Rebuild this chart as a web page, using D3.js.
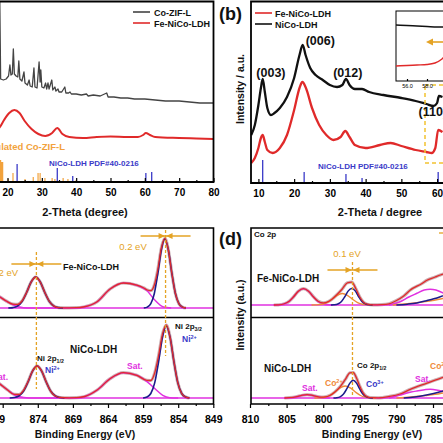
<!DOCTYPE html>
<html><head><meta charset="utf-8">
<script src="https://cdn.jsdelivr.net/npm/d3@7"></script>
<style>
html,body{margin:0;padding:0;background:#fff;overflow:hidden;}
svg{display:block;font-family:"Liberation Sans",Arial,Helvetica,sans-serif;}
</style></head><body>
<svg id="chart" width="443" height="443"></svg>
<script>
// ---------------- DATA ----------------
// Panel (a): XRD, 2-theta (degree) vs intensity (a.u.)
const aTicks = [20,30,40,50,60,70,80];
const aMinorTicks = [25,35,45,55,65,75];
const aLegend = ["Co-ZIF-L","Fe-NiCo-LDH"];
const coZifL = [[15,104],[16.5,103],[17.4,104],[17.7,200],[18.0,103],[18.8,102],[19.6,103],[20.3,106],[20.7,117],[21.0,107],[21.4,108],[21.7,133],[22.0,108],[22.5,106],[23.0,105],[23.3,121],[23.6,103],[24.2,101],[24.8,110],[25.1,99],[25.8,97],[26.3,102],[26.6,96],[27.2,95],[27.7,114],[28.0,95],[28.6,94],[29.2,120],[29.5,100],[29.7,112],[30.0,95],[30.6,94],[31.1,99],[31.4,93],[31.8,99],[32.1,93],[32.9,102],[33.2,92],[33.8,95],[34.1,91],[34.7,93],[35.0,90],[35.8,90],[36.7,95],[37.0,89],[37.8,89],[38.2,90],[38.6,88],[40,88],[41.5,87],[43,88],[43.5,86],[45,87],[47,86],[48.9,89],[49.3,85],[51,85],[53,84],[55,84],[57,83],[60,83],[63,82],[66,81],[70,81],[73,80],[76,79],[80,79]];
const feNiCoA = [[15,48],[17.8,55],[19,62],[20.5,69],[22,72],[23.5,69],[25,61],[27,53],[29,48],[31,46],[33,49],[34.5,54],[36,48],[38,45],[42,44],[46,45],[50,45.5],[55,45],[58,45],[59.5,47],[60.3,49],[61.5,47],[63,45],[70,44],[75,43.5],[80,43]];
const simCoZifTheta = [17.8,18.4,20.2,21.6,25.1,27.5,28.9,29.5,30.9,33.0,33.8,36.2,37.6,40.0];
const simCoZifInt   = [22,20,3,9,3,5,9,9,4,4,3,4,3,2];
const pdfTheta = [11.2,22.8,34.5,39.0,60.3,62.0];
const pdfIntA  = [30,18,14,6,9,10];
const pdfIntB  = [23,11,9,5,11,11];

// Panel (b)
const bTicks = [10,20,30,40,50,60];
const bMinorTicks = [15,25,35,45,55,65];
const bLegend = ["Fe-NiCo-LDH","NiCo-LDH"];
const niCoB = [[8,48],[9,58],[10,78],[10.7,95],[11.2,104],[11.8,91],[12.5,75],[13.5,68],[14.5,70],[16,75],[18,86],[20,105],[21.5,128],[22.4,138],[23.2,128],[24.5,115],[26,108],[28,103],[30,98],[32,96],[33.5,98],[34.5,104],[35.5,98],[37,94],[39,94],[41,91],[45,88],[50,85],[54,82],[57,79],[59,77],[60,80],[60.5,87],[61.5,86]];
const feNiCoB = [[8,20],[9,25],[10,35],[10.7,45],[11.2,48],[11.8,41],[12.5,33],[14,30],[16,35],[18,48],[20,73],[21.5,95],[22.3,101],[23.3,95],[25,75],[27,58],[29,48],[31,43],[33,46],[34.3,52],[35.5,46],[37,38],[40,35],[44,38],[47,40],[50,37],[54,33],[57,31],[58.5,30],[59.5,35],[60.3,53],[61.5,51]];
const peakLabels = ["(003)","(006)","(012)","(110)"];
const peakLabelTheta = [13.5,27.3,35.0,58.8];
const peakLabelInt = [106.5,138.5,106.5,67];
const insetTicks = [56,58];
const insetBlack = [[54.9,56],[56,55.5],[57,55],[58,54.5],[59,54],[60,54]];
const insetRed = [[54.9,15],[56,15.5],[57,16],[58,16.5],[58.8,18],[59.5,22],[60,27],[60.5,30]];

// Panel (c): Ni 2p XPS, binding energy (eV)
const cTicks = [879,874,869,864,859,854,849];
const cMinorTicks = [876.5,871.5,866.5,861.5,856.5,851.5];
const cUpBlue1 = [[858.9,0],[858.4,0.9],[857.9,4.3],[857.4,14.5],[856.9,34.5],[856.4,58],[855.9,69],[855.4,58],[854.9,34.5],[854.4,14.5],[853.9,4.3],[853.4,0.9],[852.9,0]];
const cUpBlue2 = [[878.2,0],[877.55,0.4],[876.9,1.9],[876.25,6.5],[875.6,15.5],[874.95,26],[874.3,31],[873.65,26],[873,15.5],[872.35,6.5],[871.7,1.9],[871.05,0.4],[870.4,0]];
const cUpMag = [[880.5,15],[879.4,11],[878.5,7],[877.6,3.5],[876.6,1],[875.5,0],[868.5,0],[867.5,1],[865.6,6],[863.7,19],[861.8,25],[859.9,22.7],[858.5,17.7],[857.3,7.7],[856.1,1],[855,0]];
const cUpRed = [[880.5,15],[879.4,11],[878.5,7],[877.55,3.9],[876.9,3.6],[876.25,7],[875.6,15.5],[874.95,26],[874.3,31],[873.65,26],[873,15.5],[872.35,6.5],[871.7,1.9],[871.05,0.4],[869.5,0.2],[868.5,0.3],[867.5,1],[865.6,6],[863.7,19],[861.8,25],[859.9,22.8],[858.9,20],[858.4,18],[857.9,17.3],[857.4,23],[856.9,38.5],[856.4,60],[855.9,69.6],[855.4,58],[854.9,34.5],[854.4,14.5],[853.9,4.3],[853.4,0.9],[852.9,0]];
const cLoBlue1 = [[859,0],[858.45,0.94],[857.9,4.5],[857.35,15.1],[856.8,36],[856.25,60.5],[855.7,72],[855.15,60.5],[854.6,36],[854.05,15.1],[853.5,4.5],[852.95,0.94],[852.4,0]];
const cLoBlue2 = [[878,0],[877.35,0.42],[876.7,2],[876.05,6.7],[875.4,16],[874.75,26.9],[874.1,32],[873.45,26.9],[872.8,16],[872.15,6.7],[871.5,2],[870.85,0.42],[870.2,0]];
const cLoMag = [[880.5,20],[879.4,14],[878.3,8],[877.3,3],[876,0.5],[874.5,0],[868.5,0],[867.3,1.5],[865.6,7.7],[863.7,19.3],[861.8,25.3],[859.9,22.7],[858.5,16.7],[857.3,9.3],[856.2,2.7],[855.2,0.3],[854,0]];
const cLoRed = [[880.5,20],[879.4,14],[878.3,8],[877.35,3.6],[876.7,3.5],[876.05,7.4],[875.4,16.2],[874.75,27],[874.1,32],[873.45,27],[872.8,16],[872.15,6.7],[871.5,2],[870.85,0.5],[869.5,0.2],[868.5,0.3],[867.3,1.5],[865.6,7.7],[863.7,19.3],[861.8,25.3],[859.9,22.7],[858.45,17.6],[857.9,17.5],[857.35,25],[856.8,42],[856.25,63.5],[855.7,73],[855.15,60.7],[854.6,36],[854.05,15.1],[853.5,4.5],[852.95,0.94],[852.4,0]];
const cShiftE = [874.2,855.8];

// Panel (d): Co 2p XPS
const dTicks = [810,805,800,795,790,785];
const dMinorTicks = [807.5,802.5,797.5,792.5,787.5];
const dUpBlue = [[798.95,0],[798.5,0.2],[798.0,1.0],[797.5,3.5],[797.05,8.25],[796.6,13.9],[796.1,16.5],[795.6,13.9],[795.15,8.25],[794.7,3.5],[794.2,1.0],[793.7,0.2],[793.25,0]];
const dUpOrange = [[801.6,0],[800.9,0.15],[800.2,0.72],[799.5,2.4],[798.8,5.75],[798.1,9.7],[797.4,11.5],[796.7,9.7],[796.0,5.75],[795.3,2.4],[794.6,0.72],[793.9,0.15],[793.2,0]];
const dUpMag = [[806.75,0],[806.1,0.2],[805.4,1],[804.7,3.4],[804.05,8.15],[803.4,13.7],[802.7,16.3],[802.0,13.7],[801.35,8.15],[800.7,3.4],[800,1],[799.3,0.2],[798.65,0]];
const dUpMagR = [[791,0],[789.5,3.3],[788.3,8],[787.2,11.7],[786.2,15],[785.4,15.7],[784.6,15],[784,13.3],[783,10]];
const dUpBlueR = [[790,0],[788.5,0.8],[787.2,2],[785.9,4.3],[784.9,6.2],[784,8.3],[783,11]];
const dUpOrangeR = [[790.5,0],[788.5,1.2],[787,2.5],[785.5,4],[784,6],[783,7.5]];
const dUpRed = [[806.75,0],[806.1,0.2],[805.4,1],[804.7,3.4],[804.05,8.2],[803.4,13.7],[802.7,16.3],[802.0,13.8],[801.35,8.3],[800.7,3.8],[800,2.1],[799.3,3.4],[798.8,5.8],[798.1,10.5],[797.4,16],[796.7,22.2],[796.1,22.8],[795.5,15.7],[795,8],[794.5,2.9],[794,0.8],[793.2,0.2],[792,0.4],[791,1.2],[790.1,4],[789,9],[788.1,15],[786.5,21.5],[785.9,24.5],[784.7,28],[784,30],[783,32]];
const dLoBlue = [[798.6,0],[798.15,0.23],[797.7,1.1],[797.25,3.7],[796.8,8.85],[796.35,14.9],[795.9,17.7],[795.45,14.9],[795,8.85],[794.55,3.7],[794.1,1.1],[793.65,0.23],[793.2,0]];
const dLoOrange = [[801.2,0],[800.5,0.15],[799.8,0.75],[799.1,2.5],[798.4,6],[797.7,10.1],[797,12],[796.3,10.1],[795.6,6],[794.9,2.5],[794.2,0.75],[793.5,0.15],[792.8,0]];
const dLoMag = [[805.3,0],[804.7,0.2],[804.1,0.6],[803.45,1.6],[802.8,2.8],[802.2,3.3],[801.6,2.8],[800.95,1.6],[800.3,0.6],[799.7,0.2],[799.1,0]];
const dLoMagR = [[791,0],[789.5,3],[788,6],[787.2,7],[785.4,8.7],[784,7.3],[783,6]];
const dLoBlueR = [[789,0],[787.5,1],[785.9,3],[784,6.3],[783,8.5]];
const dLoOrangeR = [[790,0],[788,1],[786,2.5],[784,4.5],[783,6]];
const dLoRed = [[805.3,0],[804.1,0.6],[803.45,1.6],[802.8,2.8],[802.2,3.3],[801.6,2.8],[800.95,1.7],[800.3,0.9],[799.7,1.1],[799.1,2.5],[798.4,6.1],[797.7,11.2],[797,18.3],[796.35,25.2],[795.9,25.5],[795.45,20],[795,11.75],[794.55,5.1],[794.1,1.6],[793.5,0.3],[792.5,0.2],[791,1.5],[789.5,4],[788.1,8.7],[785.9,14.7],[784,19.7],[783,22]];
const dShiftE = [796.0];

// ---------------- STYLE ----------------
const C = {gray:"#444444", red:"#e02a2a", black:"#111111", orange:"#f2a23c", blue:"#3a3ac8", navy:"#1c1c8c",
  mag:"#e030e0", gold:"#e4a325", yellow:"#f2c230", raw:"#cdb0b4", ored:"#ef8a3a"};
const svg = d3.select("#chart");
const defs = svg.append("defs");
function clip(id,x,y,w,h){defs.append("clipPath").attr("id",id).append("rect").attr("x",x).attr("y",y).attr("width",w).attr("height",h);return "url(#"+id+")";}
function txt(g,x,y,s,o={}){return g.append("text").attr("x",x).attr("y",y).attr("fill",o.fill||C.black)
  .attr("font-size",o.size||9).attr("font-weight",o.weight||"bold").attr("text-anchor",o.anchor||"start").text(s);}
function subsup(g,x,y,main,small,isSup,o={}){const size=o.size||8;
  const t=g.append("text").attr("x",x).attr("y",y).attr("fill",o.fill||C.black).attr("font-size",size).attr("font-weight","bold");
  t.append("tspan").text(main);
  t.append("tspan").attr("font-size",size*0.65).attr("dy",isSup?-size*0.4:size*0.28).text(small);return t;}
function curve(g,data,xs,ys,color,w,type){
  return g.append("path").datum(data).attr("fill","none").attr("stroke",color).attr("stroke-width",w).attr("stroke-linejoin","round")
   .attr("d",d3.line().x(d=>xs(d[0])).y(d=>ys(d[1])).curve(type||d3.curveMonotoneX));}
function converge(g,xc,y,half,color){
  g.append("line").attr("x1",xc-half).attr("x2",xc+half).attr("y1",y).attr("y2",y).attr("stroke",color).attr("stroke-width",1.3);
  g.append("path").attr("fill",color).attr("d",`M${xc-0.5},${y} L${xc-7},${y-3} L${xc-7},${y+3}Z`);
  g.append("path").attr("fill",color).attr("d",`M${xc+0.5},${y} L${xc+7},${y-3} L${xc+7},${y+3}Z`);}
function styleAxis(g,size){g.select(".domain").remove();g.selectAll(".tick line").attr("stroke","#000").attr("stroke-width",1.2);
  g.selectAll(".tick text").attr("font-size",size||10).attr("font-weight","bold").attr("fill","#000").attr("font-family",null);}

// ---------------- PANEL (a) ----------------
const xA = d3.scaleLinear().domain([20,80]).range([7.5,213.5]);
const yA = d3.scaleLinear().domain([0,180]).range([182,2]);
const gA = svg.append("g");
const plotA = gA.append("g").attr("clip-path",clip("clA",-20,2,235.5,180));
simCoZifTheta.forEach((t,i)=>plotA.append("line").attr("x1",xA(t)).attr("x2",xA(t)).attr("y1",yA(0)).attr("y2",yA(simCoZifInt[i])).attr("stroke",C.orange).attr("stroke-width",t<19?2.5:1.2));
pdfTheta.forEach((t,i)=>plotA.append("line").attr("x1",xA(t)).attr("x2",xA(t)).attr("y1",yA(0)).attr("y2",yA(pdfIntA[i])).attr("stroke",C.blue).attr("stroke-width",1.3));
curve(plotA,coZifL,xA,yA,C.gray,1.3,d3.curveLinear);
curve(plotA,feNiCoA,xA,yA,C.red,2);
gA.append("path").attr("d","M-10,1.5H213.5V182H-10").attr("fill","none").attr("stroke","#000").attr("stroke-width",1.8);
const axA = gA.append("g").attr("transform","translate(0,182)").call(d3.axisBottom(xA).tickValues(aTicks).tickSizeInner(-4).tickSizeOuter(0).tickPadding(7));
styleAxis(axA);
const axAm = gA.append("g").attr("transform","translate(0,182)").call(d3.axisBottom(xA).tickValues(aMinorTicks).tickSizeInner(-2).tickSizeOuter(0).tickFormat(""));
styleAxis(axAm);
txt(gA,85,216,"2-Theta (degree)",{size:11,anchor:"middle"});
[C.gray,C.red].forEach((c,i)=>{gA.append("line").attr("x1",133).attr("x2",150).attr("y1",12+i*11).attr("y2",12+i*11).attr("stroke",c).attr("stroke-width",1.6);
  txt(gA,154,15.5+i*11,aLegend[i],{size:9});});
txt(gA,65,149.5,"Simulated Co-ZIF-L",{size:9.5,anchor:"end",fill:C.orange});
txt(gA,49,166,"NiCo-LDH PDF#40-0216",{size:8,fill:C.blue});

// ---------------- PANEL (b) ----------------
const xB = d3.scaleLinear().domain([10,60]).range([258.4,437.1]);
const yB = d3.scaleLinear().domain([0,181]).range([183,2]);
const gB = svg.append("g");
const plotB = gB.append("g").attr("clip-path",clip("clB",251,2,200,181));
pdfTheta.forEach((t,i)=>plotB.append("line").attr("x1",xB(t)).attr("x2",xB(t)).attr("y1",yB(0)).attr("y2",yB(pdfIntB[i])).attr("stroke",C.blue).attr("stroke-width",1.3));
curve(plotB,niCoB,xB,yB,C.black,2.3);
curve(plotB,feNiCoB,xB,yB,C.red,2.3);
plotB.append("rect").attr("x",425).attr("y",85).attr("width",40).attr("height",78).attr("fill","none").attr("stroke",C.yellow).attr("stroke-width",1.5).attr("stroke-dasharray","4,3");
// inset
const xIn = d3.scaleLinear().domain([56,58]).range([407,427]);
const yIn = d3.scaleLinear().domain([0,70]).range([81,11]);
const gIn = plotB.append("g");
gIn.append("rect").attr("x",396).attr("y",11).attr("width",70).attr("height",70).attr("fill","#fff").attr("stroke","#000").attr("stroke-width",1);
const gInP = gIn.append("g").attr("clip-path",clip("clIn",396,11,70,70));
curve(gInP,insetBlack,xIn,yIn,C.black,1.4);
curve(gInP,insetRed,xIn,yIn,C.red,1.4);
const axIn = gIn.append("g").attr("transform","translate(0,81)").call(d3.axisBottom(xIn).tickValues(insetTicks).tickSizeInner(-2).tickSizeOuter(0).tickPadding(3));
styleAxis(axIn,5.5); axIn.selectAll(".tick text").attr("font-weight","normal");
gIn.append("line").attr("x1",432).attr("x2",450).attr("y1",42).attr("y2",42).attr("stroke",C.gold).attr("stroke-width",1.6);
gIn.append("path").attr("fill",C.gold).attr("d","M426,42 L433,38.5 L433,45.5Z");
gB.append("path").attr("d","M460,1.5H251V183H460").attr("fill","none").attr("stroke","#000").attr("stroke-width",1.8);
const axB = gB.append("g").attr("transform","translate(0,183)").call(d3.axisBottom(xB).tickValues(bTicks).tickSizeInner(-4).tickSizeOuter(0).tickPadding(7));
styleAxis(axB);
const axBm = gB.append("g").attr("transform","translate(0,183)").call(d3.axisBottom(xB).tickValues(bMinorTicks).tickSizeInner(-2).tickSizeOuter(0).tickFormat(""));
styleAxis(axBm);
txt(gB,380,216,"2-Theta / degree",{size:11,anchor:"middle"});
txt(gB,240,89,"Intensity / a.u.",{size:10.5,anchor:"middle"}).attr("transform","rotate(-90,240,89)").attr("dy","0.35em");
txt(gB,219,20,"(b)",{size:18});
[C.red,C.black].forEach((c,i)=>{gB.append("line").attr("x1",255).attr("x2",272).attr("y1",13+i*11).attr("y2",13+i*11).attr("stroke",c).attr("stroke-width",1.6);
  txt(gB,275,16.5+i*11,bLegend[i],{size:9});});
peakLabels.forEach((s,i)=>txt(gB,xB(peakLabelTheta[i]),yB(peakLabelInt[i]),s,{size:12.5,anchor:"middle"}));
txt(gB,318,169,"NiCo-LDH PDF#40-0216",{size:8,fill:C.blue});

// ---------------- PANEL (c) ----------------
const xC = d3.scaleLinear().domain([874,849]).range([37.8,213.3]);
const yCu = d3.scaleLinear().domain([0,80]).range([308,228]);
const yCl = d3.scaleLinear().domain([0,80]).range([398,318]);
const gC = svg.append("g");
const cu = gC.append("g").attr("clip-path",clip("clCu",-5,229,218.5,88));
const cl = gC.append("g").attr("clip-path",clip("clCl",-5,318.5,218.5,85));
[[cu,yCu,cUpRed,cUpBlue1,cUpBlue2,cUpMag],[cl,yCl,cLoRed,cLoBlue1,cLoBlue2,cLoMag]].forEach(([g,ys,red,b1,b2,mg])=>{
  curve(g,red,xC,ys,C.raw,3.2);
  g.append("line").attr("x1",-5).attr("x2",214).attr("y1",ys(0)).attr("y2",ys(0)).attr("stroke",C.mag).attr("stroke-width",1.5);
  curve(g,mg,xC,ys,C.mag,1.5);
  curve(g,b1,xC,ys,C.navy,1.6);
  curve(g,b2,xC,ys,C.navy,1.6);
  curve(g,red,xC,ys,C.red,1.3);
});
gC.append("path").attr("d","M-10,228H213.5V404H-10M-10,317.5H213.5").attr("fill","none").attr("stroke","#000").attr("stroke-width",1.6);
const axC = gC.append("g").attr("transform","translate(0,404)").call(d3.axisBottom(xC).tickValues(cTicks).tickSizeInner(4).tickSizeOuter(0).tickPadding(8));
styleAxis(axC,10.5);
// leftmost label lies mostly beyond the picture's left edge in the reference
axC.selectAll(".tick").filter(d=>d===879).select("text").attr("text-anchor","end").attr("x",2);
const axCm = gC.append("g").attr("transform","translate(0,404)").call(d3.axisBottom(xC).tickValues(cMinorTicks).tickSizeInner(2).tickSizeOuter(0).tickFormat(""));
styleAxis(axCm);
txt(gC,85,438,"Binding Energy (eV)",{size:10.5,anchor:"middle"});
// shift markers
const cd = gC.append("g");
cd.append("line").attr("x1",xC(cShiftE[0])).attr("x2",xC(cShiftE[0])).attr("y1",252).attr("y2",389).attr("stroke",C.gold).attr("stroke-width",1.3).attr("stroke-dasharray","3,2");
cd.append("line").attr("x1",xC(cShiftE[1])).attr("x2",xC(cShiftE[1])).attr("y1",230).attr("y2",356).attr("stroke",C.gold).attr("stroke-width",1.3).attr("stroke-dasharray","3,2");
converge(cd,xC(cShiftE[0]),264,25,C.gold);
converge(cd,xC(cShiftE[1]),236,25,C.gold);
txt(gC,133,250,"0.2 eV",{size:9.5,weight:"normal",fill:C.gold,anchor:"middle"});
txt(gC,18,276,"0.2 eV",{size:9.5,weight:"normal",fill:C.gold,anchor:"end"});
txt(gC,63,270,"Fe-NiCo-LDH",{size:9});
txt(gC,70,353,"NiCo-LDH",{size:10});
subsup(gC,37,361,"Ni 2p","1/2",false,{size:8});
subsup(gC,45,373,"Ni","2+",true,{size:8.5,fill:C.blue});
txt(gC,127,369,"Sat.",{size:8.5,fill:C.mag});
txt(gC,8,380,"Sat.",{size:8.5,fill:C.mag,anchor:"end"});
subsup(gC,175,329,"Ni 2p","3/2",false,{size:8});
subsup(gC,182,342,"Ni","2+",true,{size:8.5,fill:C.blue});

// ---------------- PANEL (d) ----------------
const xD = d3.scaleLinear().domain([810,785]).range([250,433]);
const yDu = d3.scaleLinear().domain([0,80]).range([305,225]);
const yDl = d3.scaleLinear().domain([0,80]).range([398,318]);
const gD = svg.append("g");
const du = gD.append("g").attr("clip-path",clip("clDu",251,229,200,88));
const dl = gD.append("g").attr("clip-path",clip("clDl",251,318.5,200,85));
[[du,yDu,dUpRed,dUpBlue,dUpOrange,dUpMag,dUpMagR,dUpBlueR,dUpOrangeR],[dl,yDl,dLoRed,dLoBlue,dLoOrange,dLoMag,dLoMagR,dLoBlueR,dLoOrangeR]].forEach(([g,ys,red,bl,or,mg,mgR,blR,orR])=>{
  curve(g,red,xD,ys,C.raw,3.2);
  g.append("line").attr("x1",250).attr("x2",450).attr("y1",ys(0)).attr("y2",ys(0)).attr("stroke",C.mag).attr("stroke-width",1.5);
  curve(g,mg,xD,ys,C.mag,1.5);
  curve(g,mgR,xD,ys,C.mag,1.5);
  curve(g,or,xD,ys,C.ored,1.4);
  curve(g,orR,xD,ys,C.ored,1.4);
  curve(g,bl,xD,ys,C.navy,1.5);
  curve(g,blR,xD,ys,C.navy,1.5);
  curve(g,red,xD,ys,C.red,1.3);
});
gD.append("path").attr("d","M460,228H251V404H460M251,317.5H460").attr("fill","none").attr("stroke","#000").attr("stroke-width",1.6);
const axD = gD.append("g").attr("transform","translate(0,404)").call(d3.axisBottom(xD).tickValues(dTicks).tickSizeInner(4).tickSizeOuter(0).tickPadding(8));
styleAxis(axD,10.5);
const axDm = gD.append("g").attr("transform","translate(0,404)").call(d3.axisBottom(xD).tickValues(dMinorTicks).tickSizeInner(2).tickSizeOuter(0).tickFormat(""));
styleAxis(axDm);
txt(gD,372,438,"Binding Energy (eV)",{size:10.5,anchor:"middle"});
txt(gD,240,315,"Intensity (a.u.)",{size:10.5,anchor:"middle"}).attr("transform","rotate(-90,240,315)").attr("dy","0.35em");
txt(gD,219,245,"(d)",{size:18});
txt(gD,254,237,"Co 2p",{size:8});
const dd = gD.append("g");
dd.append("line").attr("x1",xD(dShiftE[0])).attr("x2",xD(dShiftE[0])).attr("y1",262).attr("y2",395).attr("stroke",C.gold).attr("stroke-width",1.3).attr("stroke-dasharray","3,2");
converge(dd,xD(dShiftE[0]),270,25,C.gold);
txt(gD,347,257,"0.1 eV",{size:9.5,weight:"normal",fill:C.gold,anchor:"middle"});
dd.append("line").attr("x1",439).attr("x2",446).attr("y1",233).attr("y2",233).attr("stroke",C.gold).attr("stroke-width",1.3);
txt(gD,257,282,"Fe-NiCo-LDH",{size:10});
txt(gD,264,372,"NiCo-LDH",{size:10});
subsup(gD,357,368,"Co 2p","1/2",false,{size:8});
subsup(gD,366,387,"Co","3+",true,{size:8.5,fill:C.blue});
subsup(gD,325,386,"Co","2+",true,{size:8.5,fill:C.ored});
txt(gD,302,391,"Sat.",{size:8.5,fill:C.mag});
txt(gD,415,382,"Sat.",{size:8.5,fill:C.mag});
subsup(gD,430,369,"Co","2+",true,{size:8.5,fill:C.ored});
</script>
</body></html>
